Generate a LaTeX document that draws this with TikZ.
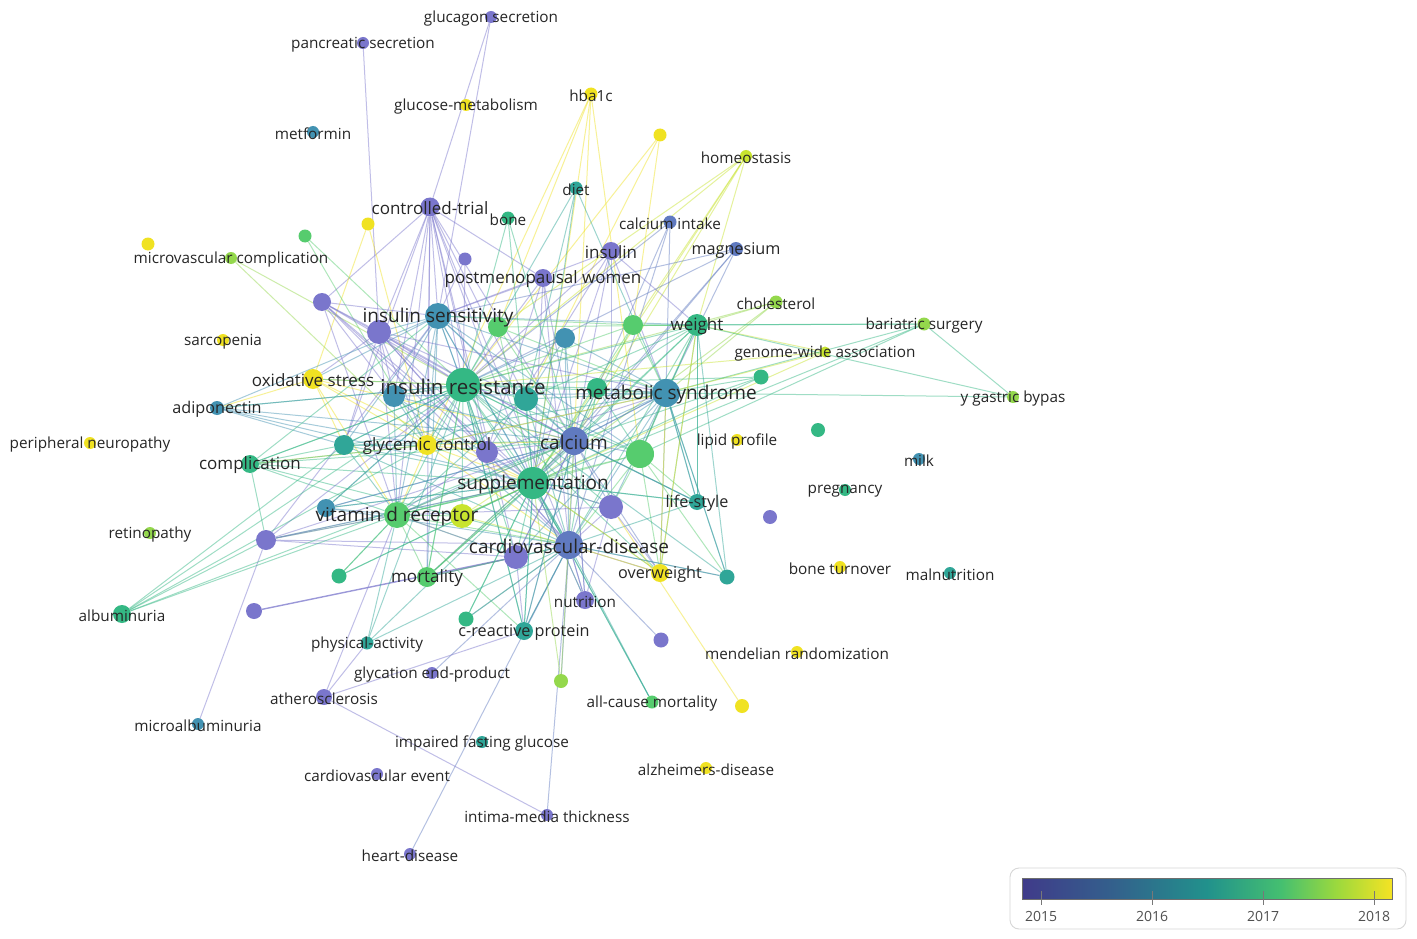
\documentclass[tikz,border=0pt]{standalone}
\usepackage{fontspec}
\setmainfont{Open Sans}
\pgfdeclarelayer{bg}
\pgfdeclarelayer{paper}
\pgfsetlayers{paper,bg,main}
\definecolor{vP}{RGB}{122,118,204}
\definecolor{vB}{RGB}{96,122,192}
\definecolor{vTB}{RGB}{66,146,178}
\definecolor{vT}{RGB}{48,166,152}
\definecolor{vTG}{RGB}{52,184,132}
\definecolor{vG}{RGB}{86,204,110}
\definecolor{vLG}{RGB}{148,216,76}
\definecolor{vYG}{RGB}{200,228,46}
\definecolor{vY}{RGB}{240,226,34}
\definecolor{labc}{RGB}{38,38,38}
\pgfdeclarehorizontalshading{viridis}{100bp}{rgb(0bp)=(0.25,0.23,0.54); rgb(25bp)=(0.25,0.23,0.54); rgb(37.5bp)=(0.20,0.38,0.55); rgb(50bp)=(0.13,0.57,0.55); rgb(60bp)=(0.27,0.75,0.44); rgb(67.5bp)=(0.61,0.85,0.24); rgb(75bp)=(0.96,0.89,0.14); rgb(100bp)=(0.96,0.89,0.14)}
\newcommand\kwedges[3]{\foreach \t in {#3} \draw[edge,draw=#2] (k-#1) -- (k-\t);}
\tikzset{
  dot/.style={circle,inner sep=0pt,draw=none},
  edge/.style={line width=1pt,opacity=0.47},
  lbS/.style={text=labc,inner sep=0pt,yshift=-1.5pt,font=\fontsize{15.3}{18}\selectfont},
  lbM/.style={text=labc,inner sep=0pt,yshift=-1.5pt,font=\fontsize{16.2}{19}\selectfont},
  lbN/.style={text=labc,inner sep=0pt,yshift=-1.5pt,font=\fontsize{17}{20}\selectfont},
  lbL/.style={text=labc,inner sep=0pt,yshift=-1.5pt,font=\fontsize{19}{22}\selectfont},
  lbX/.style={text=labc,inner sep=0pt,yshift=-1.5pt,font=\fontsize{20.5}{24}\selectfont},
  yr/.style={text={rgb,255:red,80;green,80;blue,80},inner sep=0pt,font=\fontsize{14}{16}\selectfont},
}
\begin{document}
\begin{tikzpicture}[x=1pt,y=-1pt]
\begin{pgfonlayer}{paper}
\fill[white] (0,0) rectangle (1417,939);
\end{pgfonlayer}
\useasboundingbox (0,0) rectangle (1417,939);
% ---------- nodes ----------
\node[dot,fill=vP,minimum size=12pt] (k-gs) at (491,17) {};
\node[dot,fill=vP,minimum size=12pt] (k-ps) at (363,43) {};
\node[dot,fill=vY,minimum size=12pt] (k-gm) at (466,105) {};
\node[dot,fill=vY,minimum size=13pt] (k-hb) at (591,94) {};
\node[dot,fill=vTB,minimum size=12pt] (k-mf) at (313,132) {};
\node[dot,fill=vY,minimum size=13pt] (k-y1) at (660,135) {};
\node[dot,fill=vYG,minimum size=12pt] (k-ho) at (746,156) {};
\node[dot,fill=vT,minimum size=13pt] (k-di) at (576,188) {};
\node[dot,fill=vP,minimum size=19pt] (k-ct) at (430,207) {};
\node[dot,fill=vTG,minimum size=13pt] (k-bo) at (508,218) {};
\node[dot,fill=vB,minimum size=13pt] (k-ci) at (670,222) {};
\node[dot,fill=vY,minimum size=13pt] (k-y2) at (368,224) {};
\node[dot,fill=vG,minimum size=13pt] (k-g1) at (305,236) {};
\node[dot,fill=vY,minimum size=13pt] (k-y3) at (148,244) {};
\node[dot,fill=vLG,minimum size=12pt] (k-mc) at (231,258) {};
\node[dot,fill=vP,minimum size=18pt] (k-in) at (611,251) {};
\node[dot,fill=vB,minimum size=14pt] (k-mg) at (736,249) {};
\node[dot,fill=vP,minimum size=13pt] (k-p1) at (465,259) {};
\node[dot,fill=vP,minimum size=18pt] (k-pw) at (543,278) {};
\node[dot,fill=vLG,minimum size=13pt] (k-ch) at (776,302) {};
\node[dot,fill=vLG,minimum size=13pt] (k-bs) at (924,324) {};
\node[dot,fill=vP,minimum size=18pt] (k-p2) at (322,302) {};
\node[dot,fill=vTB,minimum size=26pt] (k-is) at (438,316) {};
\node[dot,fill=vP,minimum size=24pt] (k-p3) at (379,332) {};
\node[dot,fill=vG,minimum size=20pt] (k-g2) at (498,327) {};
\node[dot,fill=vTB,minimum size=20pt] (k-t1) at (565,338) {};
\node[dot,fill=vG,minimum size=20pt] (k-g3) at (633,325) {};
\node[dot,fill=vTG,minimum size=22pt] (k-wt) at (697,325) {};
\node[dot,fill=vYG,minimum size=11pt] (k-gw) at (825,352) {};
\node[dot,fill=vY,minimum size=12pt] (k-sa) at (223,340) {};
\node[dot,fill=vTG,minimum size=15pt] (k-t2) at (761,377) {};
\node[dot,fill=vY,minimum size=20pt] (k-os) at (313,379) {};
\node[dot,fill=vTB,minimum size=22pt] (k-t3) at (394,396) {};
\node[dot,fill=vT,minimum size=24pt] (k-t4) at (526,399) {};
\node[dot,fill=vTG,minimum size=20pt] (k-t5) at (597,388) {};
\node[dot,fill=vTG,minimum size=34pt] (k-ir) at (463,385) {};
\node[dot,fill=vTB,minimum size=28pt] (k-ms) at (666,393) {};
\node[dot,fill=vLG,minimum size=12pt] (k-yg) at (1013,397) {};
\node[dot,fill=vTB,minimum size=14pt] (k-ad) at (217,408) {};
\node[dot,fill=vY,minimum size=12pt] (k-pn) at (90,443) {};
\node[dot,fill=vTG,minimum size=14pt] (k-t6) at (818,430) {};
\node[dot,fill=vY,minimum size=12pt] (k-lp) at (737,440) {};
\node[dot,fill=vT,minimum size=20pt] (k-t7) at (344,445) {};
\node[dot,fill=vY,minimum size=20pt] (k-gc) at (427,445) {};
\node[dot,fill=vP,minimum size=22pt] (k-p4) at (487,452) {};
\node[dot,fill=vB,minimum size=28pt] (k-ca) at (574,441) {};
\node[dot,fill=vG,minimum size=28pt] (k-g4) at (640,454) {};
\node[dot,fill=vTB,minimum size=12pt] (k-mi) at (919,459) {};
\node[dot,fill=vTG,minimum size=18pt] (k-co) at (250,464) {};
\node[dot,fill=vTG,minimum size=12pt] (k-pr) at (845,490) {};
\node[dot,fill=vTG,minimum size=32pt] (k-su) at (533,483) {};
\node[dot,fill=vT,minimum size=16pt] (k-ls) at (697,502) {};
\node[dot,fill=vP,minimum size=24pt] (k-p5) at (611,507) {};
\node[dot,fill=vP,minimum size=14pt] (k-p6) at (770,517) {};
\node[dot,fill=vTB,minimum size=18pt] (k-t8) at (326,508) {};
\node[dot,fill=vG,minimum size=26pt] (k-vd) at (397,515) {};
\node[dot,fill=vYG,minimum size=24pt] (k-y4) at (462,516) {};
\node[dot,fill=vLG,minimum size=12pt] (k-re) at (150,533) {};
\node[dot,fill=vP,minimum size=20pt] (k-p7) at (266,540) {};
\node[dot,fill=vB,minimum size=28pt] (k-cv) at (569,545) {};
\node[dot,fill=vP,minimum size=24pt] (k-p8) at (516,557) {};
\node[dot,fill=vY,minimum size=12pt] (k-bt) at (840,567) {};
\node[dot,fill=vT,minimum size=12pt] (k-mn) at (950,573) {};
\node[dot,fill=vTG,minimum size=15pt] (k-t9) at (339,576) {};
\node[dot,fill=vG,minimum size=20pt] (k-mo) at (427,577) {};
\node[dot,fill=vY,minimum size=18pt] (k-ow) at (660,573) {};
\node[dot,fill=vT,minimum size=15pt] (k-t10) at (727,577) {};
\node[dot,fill=vP,minimum size=18pt] (k-nu) at (585,600) {};
\node[dot,fill=vTG,minimum size=18pt] (k-al) at (122,614) {};
\node[dot,fill=vP,minimum size=16pt] (k-p9) at (254,611) {};
\node[dot,fill=vTG,minimum size=15pt] (k-t11) at (466,619) {};
\node[dot,fill=vT,minimum size=18pt] (k-cr) at (524,631) {};
\node[dot,fill=vP,minimum size=15pt] (k-p10) at (661,640) {};
\node[dot,fill=vT,minimum size=13pt] (k-pa) at (367,643) {};
\node[dot,fill=vY,minimum size=12pt] (k-mr) at (797,652) {};
\node[dot,fill=vP,minimum size=12pt] (k-ge) at (432,673) {};
\node[dot,fill=vLG,minimum size=14pt] (k-lg) at (561,681) {};
\node[dot,fill=vP,minimum size=16pt] (k-at) at (324,697) {};
\node[dot,fill=vG,minimum size=13pt] (k-am) at (652,702) {};
\node[dot,fill=vY,minimum size=14pt] (k-y5) at (742,706) {};
\node[dot,fill=vTB,minimum size=12pt] (k-ma) at (198,724) {};
\node[dot,fill=vT,minimum size=12pt] (k-if) at (482,742) {};
\node[dot,fill=vP,minimum size=12pt] (k-ce) at (377,774) {};
\node[dot,fill=vY,minimum size=12pt] (k-az) at (706,768) {};
\node[dot,fill=vP,minimum size=12pt] (k-im) at (547,815) {};
\node[dot,fill=vP,minimum size=12pt] (k-hd) at (410,854) {};
% ---------- edges ----------
\begin{pgfonlayer}{bg}
\kwedges{gs}{vP}{ct,is}
\kwedges{ps}{vP}{p3}
\kwedges{hb}{vY}{gc,ca,su,g4,g2}
\kwedges{y1}{vY}{ir,g3,t4}
\kwedges{ho}{vYG}{ca,ir,g3,wt,su,g2}
\kwedges{di}{vT}{ir,ms,su,t4}
\kwedges{ct}{vP}{is,p3,ir,t3,p4,ca,su,vd,cv,p8,p2,pw,gc,t4,t7,mo}
\kwedges{bo}{vTG}{ir,ca,su}
\kwedges{ci}{vB}{ca,cv,ms,ir}
\kwedges{y2}{vY}{gc,os}
\kwedges{g1}{vG}{ir,gc}
\kwedges{mc}{vLG}{gc,ir}
\kwedges{in}{vP}{is,ir,ca,su,ms,p4,p5,wt}
\kwedges{mg}{vB}{ca,ms,ir,su,is}
\kwedges{p1}{vP}{ir,is}
\kwedges{pw}{vP}{ca,su,ir,cv,is,p4}
\kwedges{ch}{vLG}{ir,ms,wt,su}
\kwedges{bs}{vTG}{wt,g3,yg,ms,g4,su}
\kwedges{p2}{vP}{ir,is,p3,su,ca,cv,t3,p4,vd}
\kwedges{is}{vTB}{ir,p3,su,ca,ms,cv,vd,gc,t4,t3,g4,wt,os,t7,mo,p4}
\kwedges{p3}{vP}{ir,su,ca,cv,vd,gc,p4,t4,ms,t7,os,t3}
\kwedges{g2}{vG}{ir,su,ca,ms,wt}
\kwedges{t1}{vTB}{ir,su,ca,ms,cv,t4}
\kwedges{g3}{vG}{wt,ir,ms,su,ca,is}
\kwedges{wt}{vTG}{ms,ir,su,ca,g4,cv,t4,t5,ls,ow}
\kwedges{gw}{vYG}{ms,ir,su,wt}
\kwedges{t2}{vTG}{ms,ir,su,ca}
\kwedges{os}{vY}{ir,gc,su,vd,ca,t7,ad}
\kwedges{ir}{vTG}{ms,su,ca,cv,vd,gc,t4,t3,t5,g4,p4,p5,p8,y4,t7,t8,co,mo,os,ad,cr,ls,ow}
\kwedges{t3}{vTB}{su,ca,vd,gc,cv,ms}
\kwedges{t4}{vT}{su,ca,ms,cv,vd,gc,g4}
\kwedges{ms}{vTB}{su,ca,cv,vd,g4,p5,ls,ow,t5,t10,gc,p8}
\kwedges{t5}{vTG}{su,ca,cv,g4}
\kwedges{yg}{vTG}{ms,wt}
\kwedges{ad}{vTB}{ir,gc,su,ca,is,t7}
\kwedges{t7}{vT}{ir,su,ca,vd,cv,ms,gc}
\kwedges{gc}{vY}{su,ca,vd,cv,ms,p4,co}
\kwedges{p4}{vP}{su,ca,cv,vd,ms}
\kwedges{ca}{vB}{su,cv,vd,g4,p5,p8,ms,nu,ow,ls,mo,cr,t8}
\kwedges{g4}{vG}{su,cv,ms,ls,ow,t10,vd,p5}
\kwedges{co}{vTG}{ir,su,vd,gc,cv,is,p7,t7,ca}
\kwedges{su}{vTG}{cv,vd,p5,p8,y4,mo,nu,cr,ls,ow,t9,t8,p7,t11,am}
\kwedges{ls}{vT}{ms,su,ca,cv,wt}
\kwedges{p5}{vP}{cv,su,vd,ow,nu}
\kwedges{t8}{vTB}{ir,su,vd,cv,ca}
\kwedges{vd}{vG}{cv,p8,y4,mo,p7,t9,cr,su,ca}
\kwedges{y4}{vYG}{cv,su,ca}
\kwedges{p7}{vP}{vd,cv,ma,su,ir,is,ca,p8}
\kwedges{cv}{vB}{p8,nu,cr,mo,p10,ow,t10,lg,hd,t11,ge,im}
\kwedges{y5}{vY}{p5}
\kwedges{p8}{vP}{mo,cr,ca,vd}
\draw[edge,draw=vP,line width=1.4pt,opacity=0.75] (k-p9) -- (k-p8);
\kwedges{t9}{vTG}{vd,su}
\kwedges{mo}{vG}{cv,su,ca,ir}
\kwedges{ow}{vY}{ms,wt,cv,su}
\kwedges{t10}{vT}{cv,ms,wt,ir}
\kwedges{nu}{vP}{cv,ca,su}
\kwedges{al}{vTG}{vd,p7,t7,ir,gc,ca}
\kwedges{t11}{vTG}{cv,su}
\kwedges{cr}{vT}{cv,ir,su,ca}
\kwedges{am}{vT}{cv,su}
\kwedges{pa}{vT}{cv,ir,su,vd}
\kwedges{lg}{vLG}{su,ca}
\kwedges{at}{vP}{vd,pa,cr,im}
\end{pgfonlayer}
% ---------- labels ----------
\node[lbS] (l-gs) at (k-gs) {glucagon secretion};
\node[lbS] (l-ps) at (k-ps) {pancreatic secretion};
\node[lbS] (l-gm) at (k-gm) {glucose-metabolism};
\node[lbS] (l-hb) at (k-hb) {hba1c};
\node[lbS] (l-mf) at (k-mf) {metformin};
\node[lbS] (l-ho) at (k-ho) {homeostasis};
\node[lbS] (l-di) at (k-di) {diet};
\node[lbN] (l-ct) at (k-ct) {controlled-trial};
\node[lbS] (l-bo) at (k-bo) {bone};
\node[lbS] (l-ci) at (k-ci) {calcium intake};
\node[lbS] (l-mc) at (k-mc) {microvascular complication};
\node[lbN] (l-in) at (k-in) {insulin};
\node[lbM] (l-mg) at (k-mg) {magnesium};
\node[lbN] (l-pw) at (k-pw) {postmenopausal women};
\node[lbS] (l-ch) at (k-ch) {cholesterol};
\node[lbS] (l-bs) at (k-bs) {bariatric surgery};
\node[lbL] (l-is) at (k-is) {insulin sensitivity};
\node[lbN] (l-wt) at (k-wt) {weight};
\node[lbS] (l-gw) at (k-gw) {genome-wide association};
\node[lbS] (l-sa) at (k-sa) {sarcopenia};
\node[lbN] (l-os) at (k-os) {oxidative stress};
\node[lbX] (l-ir) at (k-ir) {insulin resistance};
\node[lbL] (l-ms) at (k-ms) {metabolic syndrome};
\node[lbS] (l-yg) at (k-yg) {y gastric bypas};
\node[lbM] (l-ad) at (k-ad) {adiponectin};
\node[lbS] (l-pn) at (k-pn) {peripheral neuropathy};
\node[lbS] (l-lp) at (k-lp) {lipid profile};
\node[lbN] (l-gc) at (k-gc) {glycemic control};
\node[lbL] (l-ca) at (k-ca) {calcium};
\node[lbS] (l-mi) at (k-mi) {milk};
\node[lbN] (l-co) at (k-co) {complication};
\node[lbS] (l-pr) at (k-pr) {pregnancy};
\node[lbL] (l-su) at (k-su) {supplementation};
\node[lbM] (l-ls) at (k-ls) {life-style};
\node[lbL] (l-vd) at (k-vd) {vitamin d receptor};
\node[lbS] (l-re) at (k-re) {retinopathy};
\node[lbL] (l-cv) at (k-cv) {cardiovascular-disease};
\node[lbS] (l-bt) at (k-bt) {bone turnover};
\node[lbS] (l-mn) at (k-mn) {malnutrition};
\node[lbN] (l-mo) at (k-mo) {mortality};
\node[lbM] (l-ow) at (k-ow) {overweight};
\node[lbS] (l-nu) at (k-nu) {nutrition};
\node[lbS] (l-al) at (k-al) {albuminuria};
\node[lbM] (l-cr) at (k-cr) {c-reactive protein};
\node[lbS] (l-pa) at (k-pa) {physical-activity};
\node[lbS] (l-mr) at (k-mr) {mendelian randomization};
\node[lbS] (l-ge) at (k-ge) {glycation end-product};
\node[lbS] (l-at) at (k-at) {atherosclerosis};
\node[lbS] (l-am) at (k-am) {all-cause mortality};
\node[lbS] (l-ma) at (k-ma) {microalbuminuria};
\node[lbS] (l-if) at (k-if) {impaired fasting glucose};
\node[lbS] (l-ce) at (k-ce) {cardiovascular event};
\node[lbS] (l-az) at (k-az) {alzheimers-disease};
\node[lbS] (l-im) at (k-im) {intima-media thickness};
\node[lbS] (l-hd) at (k-hd) {heart-disease};
% ---------- legend ----------
\draw[rounded corners=9pt,draw={rgb,255:red,215;green,215;blue,215},line width=0.9pt] (1010,868) rectangle (1406,929);
\shade[shading=viridis] (1022,878) rectangle (1392,899);
\draw[draw={rgb,255:red,110;green,110;blue,110},line width=0.6pt] (1022,878) rectangle (1392,899);
\foreach \xx/\yy in {1041/2015,1152/2016,1263/2017,1374/2018}{
  \draw[draw={rgb,255:red,120;green,120;blue,120},line width=0.8pt] (\xx,891) -- (\xx,905);
  \node[yr] (yr-\yy) at (\xx,916) {\yy};
}
\end{tikzpicture}
\end{document}
